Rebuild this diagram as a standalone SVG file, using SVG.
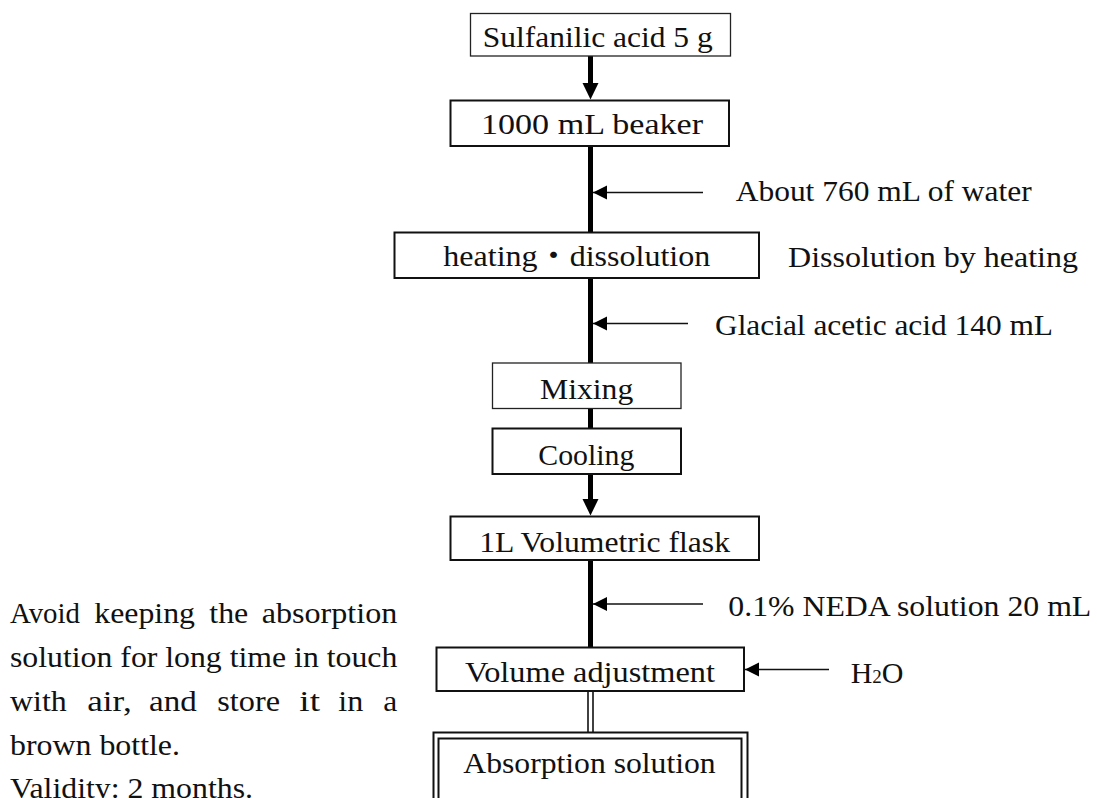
<svg xmlns="http://www.w3.org/2000/svg" width="1097" height="798" viewBox="0 0 1097 798">
  <style>
    text { font-family: "Liberation Serif", "Times New Roman", "Noto Sans CJK JP", serif; font-size: 30px; fill: #111; }
    .box { fill: #fff; stroke: #111; stroke-width: 2; }
    .box-thin { fill: #fff; stroke: #222; stroke-width: 1.3; }
    .trunk { stroke: #000; stroke-width: 5; fill: none; }
    .feed { stroke: #111; stroke-width: 1.6; fill: none; marker-end: url(#headThin); }
    .rail { stroke: #111; stroke-width: 1.6; fill: none; }
  </style>
  <defs>
    <marker id="headThin" markerUnits="userSpaceOnUse" markerWidth="15" markerHeight="15" refX="14" refY="7" orient="auto">
      <path d="M0,0 L14,7 L0,14 Z" fill="#000"/>
    </marker>
  </defs>

  <rect width="1097" height="798" fill="#fff"/>

  <!-- connectors -->
  <g id="connectors">
    <!-- main vertical trunk -->
    <line class="trunk" x1="590.5" y1="56" x2="590.5" y2="84"/>
    <path d="M582.5,83 L598.5,83 L590.5,99.5 Z" fill="#000"/>
    <line class="trunk" x1="590.5" y1="146" x2="590.5" y2="232"/>
    <line class="trunk" x1="590.5" y1="278" x2="590.5" y2="363"/>
    <line class="trunk" x1="590.5" y1="409" x2="590.5" y2="428"/>
    <line class="trunk" x1="590.5" y1="474" x2="590.5" y2="500"/>
    <path d="M582.5,499 L598.5,499 L590.5,515.5 Z" fill="#000"/>
    <line class="trunk" x1="590.5" y1="560" x2="590.5" y2="647"/>
    <!-- double rail into the final product -->
    <line class="rail" x1="588" y1="691" x2="588" y2="733"/>
    <line class="rail" x1="593" y1="691" x2="593" y2="733"/>
    <!-- reagent feeds -->
    <line class="feed" x1="703" y1="192.5" x2="593" y2="192.5"/>
    <line class="feed" x1="688" y1="323.5" x2="593" y2="323.5"/>
    <line class="feed" x1="703" y1="604" x2="593" y2="604"/>
    <line class="feed" x1="829" y1="669.5" x2="745" y2="669.5"/>
  </g>

  <!-- process steps -->
  <g id="n-sulfanilic">
    <rect class="box-thin" x="470.5" y="13.5" width="260" height="42.5"/>
    <text x="482.7" y="46.7" textLength="230" lengthAdjust="spacingAndGlyphs">Sulfanilic acid 5 g</text>
  </g>
  <g id="n-beaker">
    <rect class="box" x="450.5" y="100.5" width="278.5" height="45.5"/>
    <text x="481" y="133.5" textLength="222" lengthAdjust="spacingAndGlyphs">1000 mL beaker</text>
  </g>
  <g id="n-heating">
    <rect class="box" x="394.5" y="232.5" width="364.5" height="45.5"/>
    <text x="443.3" y="265.5" textLength="267" lengthAdjust="spacingAndGlyphs">heating・dissolution</text>
  </g>
  <g id="n-mixing">
    <rect class="box-thin" x="492.5" y="363" width="188.5" height="45.5"/>
    <text x="540" y="399" textLength="93.3" lengthAdjust="spacingAndGlyphs">Mixing</text>
  </g>
  <g id="n-cooling">
    <rect class="box" x="492.5" y="428.5" width="188.5" height="45.5"/>
    <text x="538.3" y="465" textLength="96" lengthAdjust="spacingAndGlyphs">Cooling</text>
  </g>
  <g id="n-flask">
    <rect class="box" x="450.5" y="516.5" width="308.5" height="43.5"/>
    <text x="479.3" y="551.7" textLength="250.7" lengthAdjust="spacingAndGlyphs">1L Volumetric flask</text>
  </g>
  <g id="n-volume">
    <rect class="box" x="436.5" y="647.5" width="307.5" height="43.5"/>
    <text x="465" y="682.3" textLength="250" lengthAdjust="spacingAndGlyphs">Volume adjustment</text>
  </g>
  <g id="n-absorption">
    <rect class="box" x="433.5" y="732.5" width="314" height="100"/>
    <rect class="box" x="438.5" y="738.5" width="303" height="100"/>
    <text x="463.3" y="773.3" textLength="252.4" lengthAdjust="spacingAndGlyphs">Absorption solution</text>
  </g>

  <!-- reagent and condition labels -->
  <g id="n-water">
    <text x="735.7" y="200.7" textLength="296" lengthAdjust="spacingAndGlyphs">About 760 mL of water</text>
  </g>
  <g id="n-heat-note">
    <text x="788" y="266.7" textLength="290" lengthAdjust="spacingAndGlyphs">Dissolution by heating</text>
  </g>
  <g id="n-acetic">
    <text x="715" y="335" textLength="338" lengthAdjust="spacingAndGlyphs">Glacial acetic acid 140 mL</text>
  </g>
  <g id="n-neda">
    <text x="728.3" y="615.7" textLength="363" lengthAdjust="spacingAndGlyphs">0.1%  NEDA solution 20 mL</text>
  </g>
  <g id="n-h2o">
    <text x="850.7" y="683.3">H<tspan font-size="19">2</tspan>O</text>
  </g>

  <!-- storage note -->
  <g id="n-note">
    <text x="10" y="623.3" textLength="70" lengthAdjust="spacingAndGlyphs">Avoid</text>
    <text x="94.3" y="623.3" textLength="100.7" lengthAdjust="spacingAndGlyphs">keeping</text>
    <text x="209.3" y="623.3" textLength="39" lengthAdjust="spacingAndGlyphs">the</text>
    <text x="261.7" y="623.3" textLength="135.6" lengthAdjust="spacingAndGlyphs">absorption</text>

    <text x="10" y="667.3" textLength="387.3" lengthAdjust="spacingAndGlyphs">solution for long time in touch</text>

    <text x="10" y="710.7" textLength="56.7" lengthAdjust="spacingAndGlyphs">with</text>
    <text x="87.3" y="710.7" textLength="44.4" lengthAdjust="spacingAndGlyphs">air,</text>
    <text x="149" y="710.7" textLength="47.7" lengthAdjust="spacingAndGlyphs">and</text>
    <text x="217.3" y="710.7" textLength="62.7" lengthAdjust="spacingAndGlyphs">store</text>
    <text x="299.3" y="710.7" textLength="20.7" lengthAdjust="spacingAndGlyphs">it</text>
    <text x="338.3" y="710.7" textLength="25" lengthAdjust="spacingAndGlyphs">in</text>
    <text x="383.3" y="710.7" textLength="14" lengthAdjust="spacingAndGlyphs">a</text>

    <text x="10" y="755" textLength="170" lengthAdjust="spacingAndGlyphs">brown bottle.</text>
    <text x="10" y="798" textLength="243" lengthAdjust="spacingAndGlyphs">Validity: 2 months.</text>
  </g>
</svg>
